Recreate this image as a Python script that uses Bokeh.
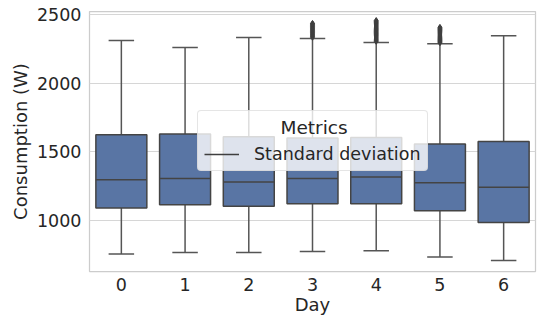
from bokeh.plotting import figure
from bokeh.models import Legend, LegendItem, FixedTicker, Range1d, ColumnDataSource
from bokeh.embed import file_html
from bokeh.resources import INLINE

# ---- data ----
days = [0, 1, 2, 3, 4, 5, 6]
q1 = [1088, 1112, 1101, 1119, 1120, 1068, 982]
medians = [1294, 1304, 1278, 1304, 1314, 1273, 1240]
q3 = [1624, 1628, 1609, 1600, 1603, 1556, 1574]
whisker_low = [752, 763, 763, 771, 776, 730, 705]
whisker_high = [2312, 2261, 2334, 2327, 2298, 2288, 2347]
outliers_day3 = [2336, 2344, 2352, 2360, 2368, 2376, 2384, 2392, 2400, 2408, 2416, 2424, 2432, 2437]
outliers_day4 = [2306, 2314, 2322, 2330, 2338, 2346, 2354, 2362, 2370, 2378, 2386, 2394, 2402, 2410,
                 2418, 2426, 2434, 2442, 2450, 2458]
outliers_day5 = [2296, 2304, 2312, 2320, 2328, 2336, 2344, 2352, 2360, 2368, 2376, 2384, 2392, 2400, 2408]
y_ticks = [1000, 1500, 2000, 2500]
legend_title = "Metrics"
legend_label = "Standard deviation"

FONT = "DejaVu Sans"
TXT = "#262626"
BOX = "#5975a4"
EDGE = "#444444"
WHISK = "#555555"
BOX_W = 0.8
CAP_W = 0.4

p = figure(width=539, height=320, output_backend="svg", toolbar_location=None,
           x_range=Range1d(-0.5, 6.5), y_range=Range1d(624, 2524),
           min_border_left=89, min_border_right=4, min_border_top=11, min_border_bottom=49)
p.background_fill_color = "white"
p.border_fill_color = "white"
p.outline_line_color = "#cccccc"
p.outline_line_width = 1.25

src = ColumnDataSource(dict(
    x=days, q1=q1, med=medians, q3=q3, lo=whisker_low, hi=whisker_high,
    bx0=[d - BOX_W / 2 for d in days], bx1=[d + BOX_W / 2 for d in days],
    cx0=[d - CAP_W / 2 for d in days], cx1=[d + CAP_W / 2 for d in days],
))

# whiskers
p.segment(x0="x", y0="q3", x1="x", y1="hi", source=src, line_color=WHISK, line_width=1.5)
p.segment(x0="x", y0="q1", x1="x", y1="lo", source=src, line_color=WHISK, line_width=1.5)
# caps
p.segment(x0="cx0", y0="hi", x1="cx1", y1="hi", source=src, line_color=WHISK, line_width=1.5)
p.segment(x0="cx0", y0="lo", x1="cx1", y1="lo", source=src, line_color=WHISK, line_width=1.5)
# boxes
p.vbar(x="x", width=BOX_W, top="q3", bottom="q1", source=src,
       fill_color=BOX, line_color=EDGE, line_width=1.5)
# medians
p.segment(x0="bx0", y0="med", x1="bx1", y1="med", source=src, line_color=EDGE, line_width=1.5)

# outliers
ox = [3] * len(outliers_day3) + [4] * len(outliers_day4) + [5] * len(outliers_day5)
oy = outliers_day3 + outliers_day4 + outliers_day5
p.scatter(ox, oy, marker="diamond", size=6, fill_color="#3f3f3f", line_color="#3f3f3f")

# axes
p.xaxis.ticker = FixedTicker(ticks=days)
p.yaxis.ticker = FixedTicker(ticks=y_ticks)
p.xaxis.axis_label = "Day"
p.yaxis.axis_label = "Consumption (W)"
for ax in (p.xaxis, p.yaxis):
    ax.axis_line_color = None
    ax.major_tick_line_color = None
    ax.minor_tick_line_color = None
    ax.major_tick_out = 0
    ax.major_tick_in = 0
    ax.major_label_text_font = FONT
    ax.major_label_text_font_size = "17.5px"
    ax.major_label_text_color = TXT
    ax.axis_label_text_font = FONT
    ax.axis_label_text_font_size = "18px"
    ax.axis_label_text_font_style = "normal"
    ax.axis_label_text_color = TXT
p.xaxis.major_label_standoff = 6
p.xaxis.axis_label_standoff = 0
p.yaxis.major_label_standoff = 8
p.yaxis.axis_label_standoff = 3

p.xgrid.grid_line_color = None
p.ygrid.grid_line_color = "#d6d6d6"
p.ygrid.grid_line_width = 1.2

# legend (a single-point line: nothing drawn in the plot, only its legend glyph)
leg_r = p.line(x=[days[0]], y=[medians[0]], line_color="#3f3f3f", line_width=1.4)
# the title is centred over the entry with non-breaking spaces
legend = Legend(items=[LegendItem(label=legend_label, renderers=[leg_r])],
                title="\u00a0" * 13 + legend_title, location=(108, 100), orientation="vertical")
legend.title_text_font = FONT
legend.title_text_font_size = "18.5px"
legend.title_text_color = TXT
legend.title_text_font_style = "normal"
legend.title_standoff = 6
legend.label_text_font = FONT
legend.label_text_font_size = "17.5px"
legend.label_text_color = TXT
legend.glyph_width = 35
legend.glyph_height = 20
legend.label_standoff = 15
legend.padding = 6
legend.spacing = 0
legend.margin = 0
legend.background_fill_color = "white"
legend.background_fill_alpha = 0.8
legend.border_line_color = "#cccccc"
legend.border_line_width = 1
try:
    legend.border_radius = 4
except Exception:
    pass
p.add_layout(legend, "center")

open("out.html", "w").write(file_html(p, INLINE))
